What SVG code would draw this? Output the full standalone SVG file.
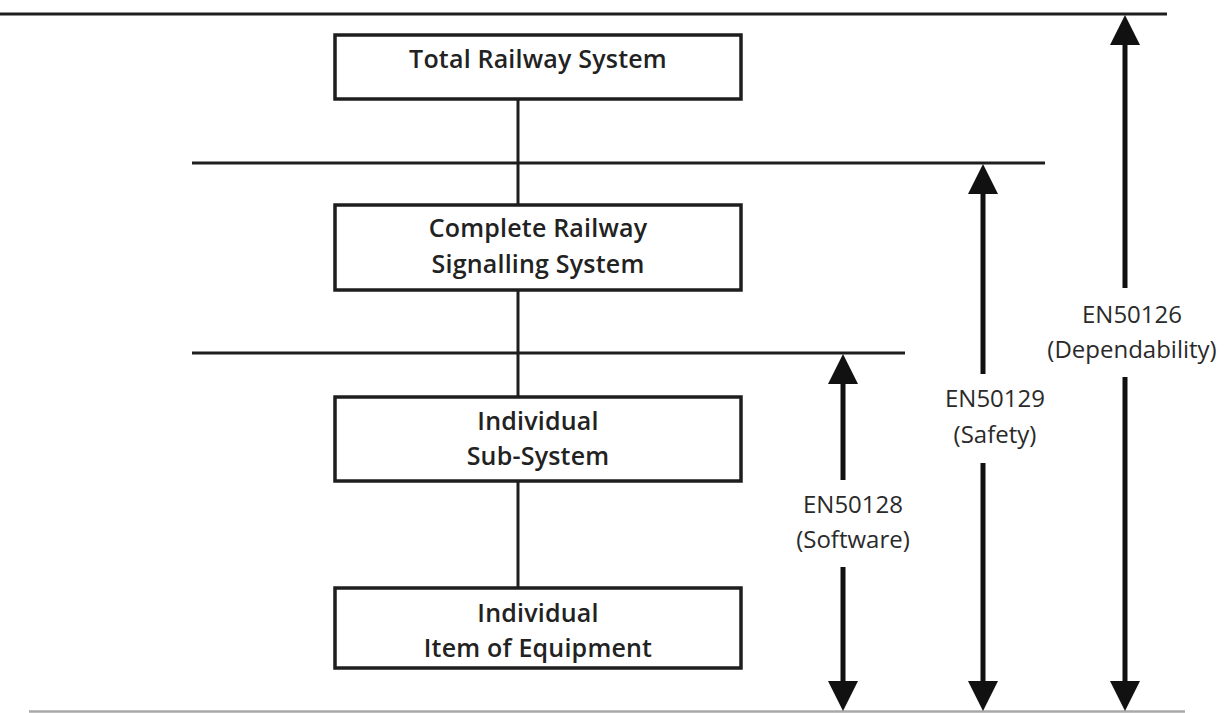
<svg xmlns="http://www.w3.org/2000/svg" width="1225" height="713" viewBox="0 0 1225 713">
  <style>
    .rule { stroke: #1e1e1e; stroke-width: 3; fill: none; }
    .base { stroke: #a8a8a8; stroke-width: 2.5; fill: none; }
    .box { fill: #ffffff; stroke: #1e1e1e; stroke-width: 3.5; }
    .link { stroke: #1e1e1e; stroke-width: 3; fill: none; }
    .shaft { stroke: #111; stroke-width: 5; fill: none; }
    .head { fill: #111; }
    .title { font-family: "Open Sans", "Liberation Sans", sans-serif; font-weight: 600; font-size: 25px; fill: #222; text-anchor: middle; letter-spacing: 0.2px; }
    .std { font-family: "Open Sans", "Liberation Sans", sans-serif; font-size: 24px; fill: #2a2a2a; text-anchor: middle; }
  </style>
  <rect width="1225" height="713" fill="#ffffff"/>

  <!-- level boundaries -->
  <g id="levels">
    <line class="rule" x1="0" y1="14" x2="1167" y2="14"/>
    <line class="rule" x1="192" y1="163" x2="1045" y2="163"/>
    <line class="rule" x1="192" y1="353" x2="905" y2="353"/>
    <line class="base" x1="29" y1="711.5" x2="1185" y2="711.5"/>
  </g>

  <!-- hierarchy links -->
  <g id="connectors">
    <line class="link" x1="518" y1="99" x2="518" y2="205"/>
    <line class="link" x1="518" y1="290" x2="518" y2="397"/>
    <line class="link" x1="518" y1="481" x2="518" y2="588"/>
  </g>

  <g id="node-total">
    <rect class="box" x="335" y="35" width="406" height="64"/>
    <text class="title" x="538" y="68">Total Railway System</text>
  </g>
  <g id="node-signalling">
    <rect class="box" x="335" y="205" width="406" height="85"/>
    <text class="title" x="538" y="237">Complete Railway</text>
    <text class="title" x="538" y="273">Signalling System</text>
  </g>
  <g id="node-subsystem">
    <rect class="box" x="335" y="397" width="406" height="84"/>
    <text class="title" x="538" y="430">Individual</text>
    <text class="title" x="538" y="465">Sub-System</text>
  </g>
  <g id="node-equipment">
    <rect class="box" x="335" y="588" width="406" height="80"/>
    <text class="title" x="538" y="622">Individual</text>
    <text class="title" x="538" y="657">Item of Equipment</text>
  </g>

  <!-- standard scope arrows -->
  <g id="scope-en50128">
    <line class="shaft" x1="843" y1="382" x2="843" y2="480"/>
    <line class="shaft" x1="843" y1="567" x2="843" y2="682"/>
    <polygon class="head" points="843,354 828,384 858,384"/>
    <polygon class="head" points="843,711 828,681 858,681"/>
    <text class="std" x="853" y="513">EN50128</text>
    <text class="std" x="853" y="548">(Software)</text>
  </g>
  <g id="scope-en50129">
    <line class="shaft" x1="983" y1="192" x2="983" y2="374"/>
    <line class="shaft" x1="983" y1="463" x2="983" y2="682"/>
    <polygon class="head" points="983,164 968,194 998,194"/>
    <polygon class="head" points="983,711 968,681 998,681"/>
    <text class="std" x="995" y="407">EN50129</text>
    <text class="std" x="995" y="443">(Safety)</text>
  </g>
  <g id="scope-en50126">
    <line class="shaft" x1="1125" y1="43" x2="1125" y2="288"/>
    <line class="shaft" x1="1125" y1="377" x2="1125" y2="682"/>
    <polygon class="head" points="1125,15 1110,45 1140,45"/>
    <polygon class="head" points="1125,711 1110,681 1140,681"/>
    <text class="std" x="1132" y="323">EN50126</text>
    <text class="std" x="1132" y="358">(Dependability)</text>
  </g>
</svg>
